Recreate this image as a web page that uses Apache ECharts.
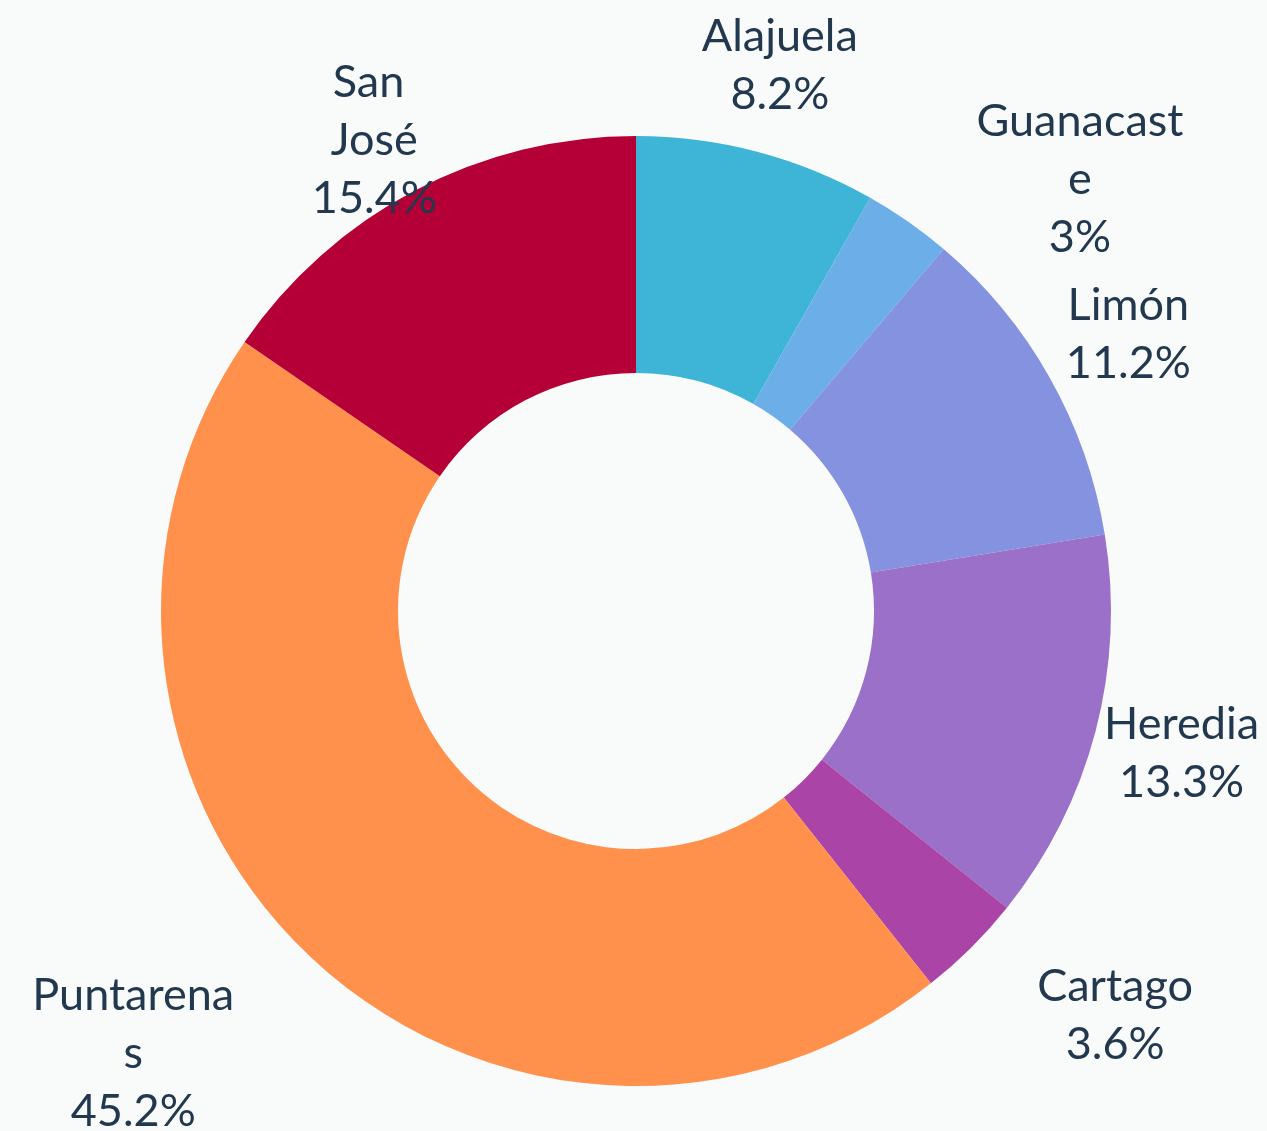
<!DOCTYPE html>
<html>
<head>
<meta charset="utf-8">
<script src="https://cdn.jsdelivr.net/npm/echarts@6/dist/echarts.min.js"></script>
<style>
  html, body { margin: 0; padding: 0; background: #f9fbfb; }
  #chart { width: 1267px; height: 1131px; }
</style>
</head>
<body>
<div id="chart"></div>
<script>
// provinces, clockwise from 12 o'clock
var provinces = ["Alajuela", "Guanacaste", "Limón", "Heredia", "Cartago", "Puntarenas", "San José"];
var shares = [8.2, 3, 11.2, 13.3, 3.6, 45.2, 15.4];
var colors = ["#3eb5d6", "#6caee8", "#8492df", "#9a70c8", "#ab44a7", "#ff914d", "#b40036"];

// label tweaks per slice (distance out from the ring, sideways shift, wrap width)
var labelOut = [89, 52, 87, 89, 95, 131, 57];
var labelSide = [0, 142, 3, 0, 77, 89, 14];
var labelWidth = [300, 215, 300, 300, 300, 208, 130];

var myChart = echarts.init(document.getElementById("chart"));

function buildData() {
  var list = [];
  for (var i = 0; i < provinces.length; i++) {
    list.push({
      name: provinces[i],
      value: shares[i],
      itemStyle: { color: colors[i] },
      label: { width: labelWidth[i] },
      labelLine: { length: labelOut[i], length2: labelSide[i] },
    });
  }
  return list;
}

var option = {
  backgroundColor: "#f9fbfb",
  animation: false,
  series: [
    {
      type: "pie",
      center: [636, 611],
      radius: [238, 475],
      startAngle: 90,
      clockwise: true,
      avoidLabelOverlap: false,
      itemStyle: { borderWidth: 0 },
      label: {
        show: true,
        position: "outside",
        alignTo: "none",
        distanceToLabelLine: 0,
        overflow: "break",
        color: "#22384f",
        fontFamily: "Lato",
        fontSize: 45,
        lineHeight: 58,
        formatter: function (p) {
          return p.name + "\n" + p.value + "%";
        },
      },
      labelLine: { show: false },
      labelLayout: function () {
        return { align: "center", verticalAlign: "middle" };
      },
      data: buildData(),
    },
  ],
};

myChart.setOption(option);
</script>
</body>
</html>
